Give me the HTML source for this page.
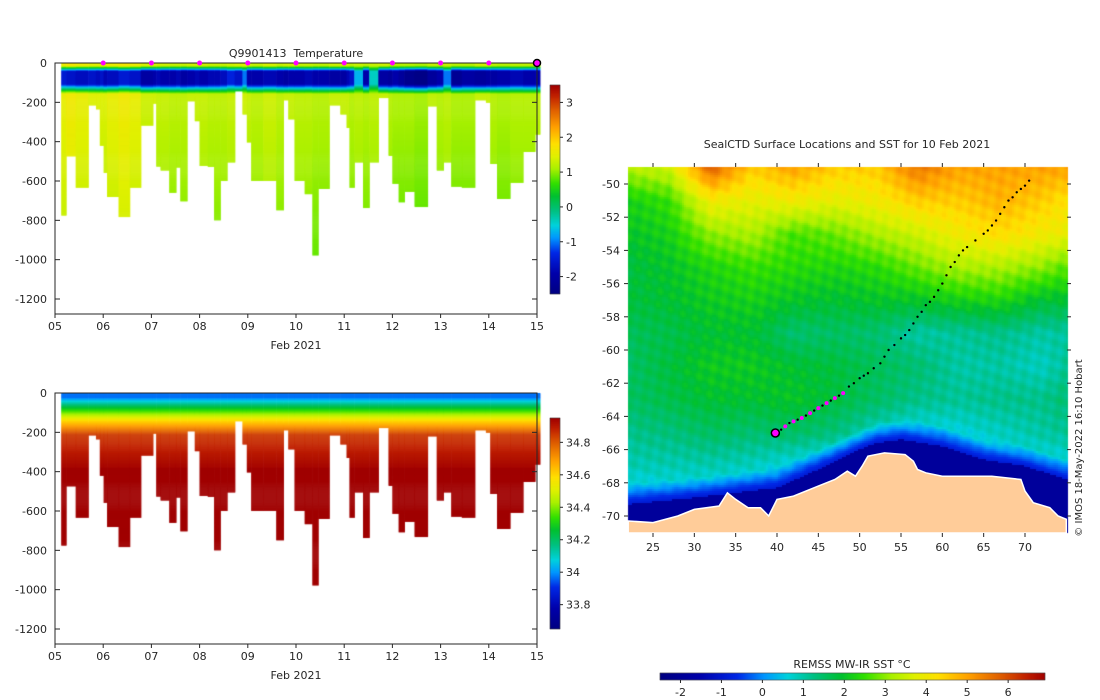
<!DOCTYPE html>
<html><head><meta charset="utf-8">
<style>
body{margin:0;background:#fff;width:1100px;height:700px;overflow:hidden;font-family:"DejaVu Sans","Liberation Sans",sans-serif;}
#root{position:relative;width:1100px;height:700px;}
canvas,svg{position:absolute;left:0;top:0;}
text{font-family:"DejaVu Sans","Liberation Sans",sans-serif;font-size:11px;fill:#262626;}
</style></head>
<body>
<div id="root">
<canvas id="cv" width="1100" height="700"></canvas>
<svg id="sv" width="1100" height="700"></svg>
</div>
<script>
// ---- section data ----
const profStart=[5.13,5.23,5.43,5.69,5.85,5.93,6.01,6.08,6.32,6.55,6.78,7.03,7.10,7.19,7.37,7.51,7.60,7.74,7.90,8.00,8.17,8.30,8.43,8.57,8.73,8.89,8.98,9.07,9.32,9.59,9.74,9.84,9.97,10.18,10.34,10.46,10.69,10.92,11.05,11.11,11.21,11.39,11.52,11.71,11.92,12.00,12.13,12.25,12.46,12.73,12.92,13.06,13.22,13.44,13.71,13.94,14.03,14.17,14.44,14.71,14.96];
const profEnd=15.06;
const profDepth=[774,473,632,214,234,419,556,679,781,632,316,205,525,545,658,530,701,193,294,521,526,798,597,504,142,260,402,597,597,747,188,285,597,665,976,638,214,260,328,632,504,735,504,176,470,612,706,653,730,219,545,504,627,632,188,200,511,689,607,450,362];
const profMinT=[-1.5,-1.6,-1.7,-1.6,-1.7,-1.6,-1.8,-1.7,-1.5,-1.6,-2.0,-1.9,-1.8,-1.9,-1.9,-1.8,-2.0,-1.9,-1.8,-1.9,-1.8,-1.8,-1.7,-1.4,-1.6,-1.0,-1.9,-1.9,-1.8,-1.9,-2.0,-1.9,-1.9,-1.8,-1.9,-1.9,-2.0,-2.0,-1.8,-1.6,-0.7,-1.9,-0.4,-2.0,-2.1,-1.9,-2.1,-2.3,-2.4,-2.1,-1.9,-1.0,-2.2,-2.0,-2.1,-2.0,-2.0,-1.9,-1.8,-1.9,-1.9];
const profDeepT=[1.55,1.65,1.55,1.45,1.45,1.45,1.45,1.55,1.65,1.55,1.35,1.35,1.3,1.3,1.25,1.25,1.25,1.3,1.3,1.3,1.25,1.25,1.25,1.3,1.35,1.35,1.3,1.25,1.35,1.25,1.3,1.3,1.25,1.25,1.2,1.2,1.3,1.3,1.3,1.2,1.25,1.2,1.25,1.3,1.2,1.15,1.15,1.15,1.1,1.25,1.2,1.25,1.15,1.15,1.3,1.3,1.2,1.15,1.2,1.2,1.25];
const markerDays=[6,7,8,9,10,11,12,13,14];
const dayTicks=[5,6,7,8,9,10,11,12,13,14,15];
const depthTicks=[0,-200,-400,-600,-800,-1000,-1200];
const tempTicks=[3,2,1,0,-1,-2];
const salTicks=[34.8,34.6,34.4,34.2,34,33.8];
// ---- map data ----
const sstLats=[-49,-51,-53,-55,-57,-59,-61,-63,-65,-67,-69,-71];
const sstLons=[22,27,32,37,42,47,52,57,62,67,72,77];
const sstGrid=[
[3.3,3.5,5.8,4.5,5.0,4.5,4.5,5.5,5.0,5.0,5.0,5.0],
[2.2,2.5,4.0,3.8,4.0,3.8,4.0,4.5,4.5,4.8,4.5,4.0],
[2.0,2.2,3.0,3.2,2.6,2.8,3.2,3.5,4.0,4.3,4.0,3.8],
[1.8,2.0,2.3,2.5,2.4,2.3,2.4,2.8,3.2,3.2,3.0,2.5],
[1.8,1.9,2.1,2.2,2.0,1.9,2.0,2.0,2.2,2.3,1.9,1.9],
[1.6,1.7,1.9,1.9,1.4,1.5,1.4,1.0,1.1,1.2,1.0,1.1],
[1.5,1.8,2.1,2.1,1.9,1.8,1.6,1.4,1.0,1.0,0.8,1.3],
[1.5,1.7,1.9,1.9,2.0,1.8,1.5,1.2,1.1,1.2,1.2,1.5],
[1.2,1.3,1.5,1.4,1.5,1.3,0.8,0.5,0.6,0.8,1.0,1.2],
[0.9,0.9,0.9,0.8,0.5,0.2,0.0,0.2,0.3,0.4,0.5,0.5],
[0.3,0.4,0.4,0.2,0.2,0.2,0.2,0.2,0.2,0.2,0.2,0.2],
[0.0,0.0,0.0,0.0,0.0,0.0,0.0,0.0,0.0,0.0,0.0,0.0]];
const iceEdgeLon=[22,30,35,40,45,50,52,55,60,65,70,75];
const iceEdgeLat=[-69.3,-68.9,-68.6,-68.3,-67.2,-66.0,-65.6,-65.4,-65.8,-66.6,-67.0,-67.8];
const coastLon=[22,25,28,30,33,34,35,36.5,38,39,40,42,45,47,48.5,49.5,50.3,51,53,55.5,56.5,57,58,60,63,66,69.5,70,71,73,74,75,75,22];
const coastLat=[-70.3,-70.4,-70,-69.6,-69.4,-68.6,-69,-69.5,-69.5,-70,-69,-68.8,-68.2,-67.8,-67.3,-67.6,-67.0,-66.4,-66.2,-66.3,-66.7,-67.2,-67.4,-67.6,-67.6,-67.6,-67.8,-68.5,-69.2,-69.5,-70,-70.2,-71.5,-71.5];
const trackLon=[39.8,40.5,41,41.5,42,42.5,43,43.5,44,44.5,45,45.5,46,46.5,47,47.5,48,48.7,49.3,50,50.5,51,51.7,52.5,53,53.5,54.2,55,55.5,56,56.5,57,57.5,58,58.5,59,59.5,60,60.5,61,61.5,62,62.5,63,64,65,65.5,66,66.5,67,67.5,68,68.5,69,69.5,70,70.5];
const trackLat=[-65.0,-64.8,-64.6,-64.4,-64.3,-64.2,-64.1,-63.95,-63.8,-63.65,-63.5,-63.35,-63.2,-63.05,-62.9,-62.75,-62.6,-62.2,-62.0,-61.7,-61.55,-61.4,-61.1,-60.8,-60.4,-60.0,-59.7,-59.3,-59.1,-58.8,-58.4,-58,-57.7,-57.3,-57.1,-56.8,-56.4,-56,-55.5,-55,-54.7,-54.3,-54.0,-53.8,-53.4,-53,-52.8,-52.5,-52.2,-51.8,-51.4,-51,-50.8,-50.5,-50.3,-50.1,-49.8];
const trackMagentaCount=18;
const lonTicks=[25,30,35,40,45,50,55,60,65,70];
const latTicks=[-50,-52,-54,-56,-58,-60,-62,-64,-66,-68,-70];
const sstTicks=[-2,-1,0,1,2,3,4,5,6];

const stops=[[0,[0,0,128]],[0.1,[0,0,170]],[0.2,[0,40,230]],[0.27,[0,150,255]],[0.33,[0,210,220]],[0.4,[0,192,128]],[0.47,[0,192,48]],[0.53,[48,224,0]],[0.6,[168,240,0]],[0.66,[224,240,0]],[0.72,[255,224,0]],[0.8,[255,160,0]],[0.88,[224,96,0]],[0.95,[192,32,0]],[1,[160,0,0]]];
function cmap(t){t=Math.max(0,Math.min(1,t));for(let i=1;i<stops.length;i++){if(t<=stops[i][0]){const a=stops[i-1],b=stops[i];const f=(t-a[0])/(b[0]-a[0]);return 'rgb('+a[1].map((v,k)=>Math.round(v+(b[1][k]-v)*f)).join(',')+')';}}return 'rgb(160,0,0)';}

const cv=document.getElementById('cv'),ctx=cv.getContext('2d');
const sv=document.getElementById('sv');const NS='http://www.w3.org/2000/svg';
function el(tag,attrs,parent){const e=document.createElementNS(NS,tag);for(const k in attrs)e.setAttribute(k,attrs[k]);(parent||sv).appendChild(e);return e;}

const X0=55,X1=537;
function xs(d){return X0+(d-5)*(X1-X0)/10;}
const panels=[{top:63,name:'temperature',cbTop:85,cbBot:294,vmin:-2.5,vmax:3.5,ticks:tempTicks},{top:393,name:'salinity',cbTop:418,cbBot:629,vmin:33.65,vmax:34.95,ticks:salTicks}];
function lerp(a,b,f){return a+(b-a)*Math.max(0,Math.min(1,f));}
function tempAt(d,i){const s=profDeepT[i]+0.05,m=profMinT[i],dp=profDeepT[i];
 if(d<12)return s; if(d<40)return lerp(s,m,(d-12)/28); if(d<105)return m; if(d<155)return lerp(m,dp,(d-105)/50);
 return dp-(d-155)*0.0004;}
function salAt(d,i){if(d<20)return 33.97;if(d<80)return lerp(33.97,34.3,(d-20)/60);if(d<140)return lerp(34.3,34.6,(d-80)/60);if(d<210)return lerp(34.6,34.85,(d-140)/70);if(d<380)return lerp(34.85,34.94,(d-210)/170);return 34.95;}

panels.forEach((p,pi)=>{
 const ys=v=>p.top+(-v)*(236/1200);
 const g=el('g',{});
 for(let i=0;i<profStart.length;i++){
  const xa=xs(profStart[i]),xb=xs(i+1<profStart.length?profStart[i+1]:profEnd);
  for(let d=0;d<profDepth[i];d+=5){
   const v=pi==0?tempAt(d,i):salAt(d,i);
   ctx.fillStyle=cmap((v-p.vmin)/(p.vmax-p.vmin));
   ctx.fillRect(xa,ys(-d),xb-xa+0.5,Math.min(5,profDepth[i]-d)*236/1200+0.5);
  }
 }
 const bot=p.top+251;
 el('rect',{x:X0,y:p.top,width:X1-X0,height:bot-p.top,fill:'none',stroke:'#262626','stroke-width':1,},g);
 depthTicks.forEach(t=>{const y=ys(t);
  el('line',{x1:X0,x2:X0+5,y1:y,y2:y,stroke:'#262626'},g);el('line',{x1:X1-5,x2:X1,y1:y,y2:y,stroke:'#262626'},g);
  const tx=el('text',{x:X0-8,y:y+4,'text-anchor':'end'},g);tx.textContent=t;
  
  
 });
 dayTicks.forEach(d=>{const x=xs(d);
  el('line',{x1:x,x2:x,y1:bot,y2:bot+4,stroke:'#262626'},g);
  const tx=el('text',{x:x,y:bot+16,'text-anchor':'middle'},g);tx.textContent=(d<10?'0':'')+d;
  
  
 });
 const xl=el('text',{x:296,y:bot+35,'text-anchor':'middle'},g);xl.textContent='Feb 2021';
 
 
 const cbx=550,cbw=10;
 for(let y=p.cbTop;y<p.cbBot;y++){ctx.fillStyle=cmap(1-(y-p.cbTop)/(p.cbBot-p.cbTop));ctx.fillRect(cbx,y,cbw,1);}
 el('rect',{x:cbx,y:p.cbTop,width:cbw,height:p.cbBot-p.cbTop,fill:'none',stroke:'#262626','stroke-width':0.5,},g);
 p.ticks.forEach(t=>{const y=p.cbBot-(t-p.vmin)/(p.vmax-p.vmin)*(p.cbBot-p.cbTop);
  el('line',{x1:cbx+cbw,x2:cbx+cbw+3,y1:y,y2:y,stroke:'#262626'},g);
  const tx=el('text',{x:cbx+cbw+6,y:y+4},g);tx.textContent=t;
  
  
 });
});
const tt=el('text',{x:296,y:57,'text-anchor':'middle'});tt.textContent='Q9901413\u00a0 Temperature';


markerDays.forEach(d=>{const c=el('circle',{cx:xs(d),cy:63,r:2.5,fill:'#ff00ff'});
 
 });
const lastM=el('circle',{cx:xs(15),cy:63,r:3.5,fill:'#ff00ff',stroke:'#000','stroke-width':1.5});



// ---- map ----
const MX0=628,MX1=1067,MY0=167,MY1=533;
function mx(lon){return 653+(lon-25)*(1025-653)/45;}
function my(lat){return 184+(-50-lat)*(516-184)/20;}
function interp1(xsA,ysA,x){if(x<=xsA[0])return ysA[0];for(let i=1;i<xsA.length;i++){if(x<=xsA[i]){const f=(x-xsA[i-1])/(xsA[i]-xsA[i-1]);return ysA[i-1]+(ysA[i]-ysA[i-1])*f;}}return ysA[ysA.length-1];}
function sstAt(lon,lat){let fi=(sstLats[0]-lat)/2,fj=(lon-sstLons[0])/5;
 fi=Math.max(0,Math.min(sstLats.length-1.001,fi));fj=Math.max(0,Math.min(sstLons.length-1.001,fj));
 const i=Math.floor(fi),j=Math.floor(fj),a=fi-i,b=fj-j;
 let v=sstGrid[i][j]*(1-a)*(1-b)+sstGrid[i+1][j]*a*(1-b)+sstGrid[i][j+1]*(1-a)*b+sstGrid[i+1][j+1]*a*b;
 v+=0.18*Math.sin(lon*2.7+lat*3.1)*Math.cos(lon*1.3-lat*4.3);
 const edge=interp1(iceEdgeLon,iceEdgeLat,lon);
 if(lat<edge)return -1.9;
 if(lat<edge+1.2)v=Math.min(v,lerp(-0.9,v,(lat-edge)/1.2));
 return v;}
const SMIN=-2.5,SMAX=6.9;
for(let y=MY0;y<MY1;y+=2)for(let x=MX0;x<MX1;x+=2){
 const lon=25+(x+1-653)*45/(1025-653),lat=-50-(y+1-184)*20/(516-184);
 ctx.fillStyle=cmap((sstAt(lon,lat)-SMIN)/(SMAX-SMIN));ctx.fillRect(x,y,2,2);}
const mg=el('g',{});
let dPath='';coastLon.forEach((lo,i)=>{dPath+=(i?'L':'M')+mx(lo).toFixed(1)+','+Math.min(MY1,my(coastLat[i])).toFixed(1);});
el('path',{d:dPath+'Z',fill:'#ffcc99',stroke:'#fff','stroke-width':1.5,},mg);
trackLon.forEach((lo,i)=>{const mag=i<trackMagentaCount&&i%2==0;
 const c=el('circle',{cx:mx(lo),cy:my(trackLat[i]),r:mag?2:1.2,fill:mag?'#ff00ff':'#000'},mg);
 
 });
const cur=el('circle',{cx:mx(trackLon[0]),cy:my(trackLat[0]),r:4,fill:'#ff00ff',stroke:'#000','stroke-width':1.5},mg);


lonTicks.forEach(l=>{const x=mx(l);el('line',{x1:x,x2:x,y1:MY0-4,y2:MY0,stroke:'#262626'},mg);el('line',{x1:x,x2:x,y1:MY1,y2:MY1+4,stroke:'#262626'},mg);
 const tx=el('text',{x:x,y:MY1+18,'text-anchor':'middle'},mg);tx.textContent=l;
 
 });
latTicks.forEach(l=>{const y=my(l);el('line',{x1:MX0-4,x2:MX0,y1:y,y2:y,stroke:'#262626'},mg);el('line',{x1:MX1,x2:MX1+4,y1:y,y2:y,stroke:'#262626'},mg);
 const tx=el('text',{x:MX0-8,y:y+4,'text-anchor':'end'},mg);tx.textContent=l;
 
 });
const mt=el('text',{x:847,y:148,'text-anchor':'middle'});mt.textContent='SealCTD Surface Locations and SST for 10 Feb 2021';


const cr=el('text',{x:0,y:0,'text-anchor':'middle',transform:'translate(1082,448) rotate(-90)',style:'font-size:10px'});cr.textContent='© IMOS 18-May-2022 16:10 Hobart';


const HX0=660,HX1=1045,HY=673;
for(let x=HX0;x<HX1;x++){ctx.fillStyle=cmap((x-HX0)/(HX1-HX0));ctx.fillRect(x,HY,1,7);}
el('rect',{x:HX0,y:HY,width:HX1-HX0,height:7,fill:'none',stroke:'#262626','stroke-width':0.5,});
sstTicks.forEach(t=>{const x=HX0+(t-SMIN)/(SMAX-SMIN)*(HX1-HX0);
 el('line',{x1:x,x2:x,y1:HY+7,y2:HY+10,stroke:'#262626'});
 const tx=el('text',{x:x,y:HY+23,'text-anchor':'middle'});tx.textContent=t;
 
 });
const ct=el('text',{x:852,y:668,'text-anchor':'middle'});ct.textContent='REMSS MW-IR SST °C';


</script>
</body></html>
